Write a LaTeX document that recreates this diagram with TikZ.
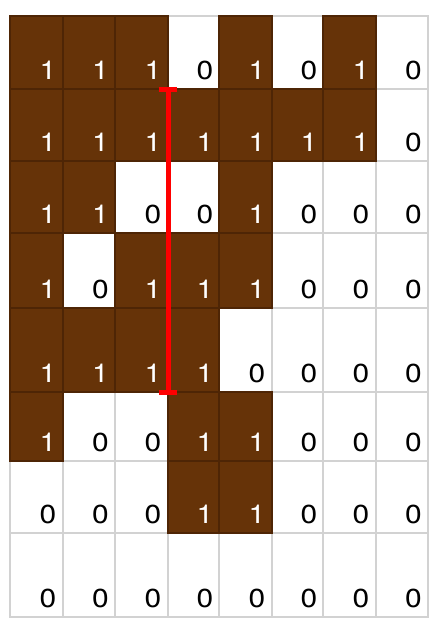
\documentclass[tikz,border=0pt]{standalone}
\usepackage{fontspec}
\setmainfont{TeX Gyre Heros}[Numbers=Lining]
\usetikzlibrary{arrows.meta, positioning}
\definecolor{cellBrown}{RGB}{102,51,8}
\definecolor{cellEdge}{RGB}{78,37,5}
\definecolor{gridGray}{RGB}{210,210,210}
\pgfdeclarelayer{blank}
\pgfsetlayers{blank,main}
\tikzset{
    cell0/.style={rectangle, draw=gridGray, line width=1.5pt, fill=white, inner sep=0pt, outer sep=0pt},
    cell1/.style={rectangle, draw=cellEdge, line width=1.2pt, fill=cellBrown, inner sep=0pt, outer sep=0pt},
    val0/.style={anchor=base, inner sep=0pt, font=\fontsize{26}{26}\selectfont, text=black},
    val1/.style={val0, text=white},
    redBar/.style={{Bar[width=18pt]}-{Bar[width=18pt]}, draw=red, line width=5pt, shorten <=-2.5pt, shorten >=-2.5pt},
}
\newcommand{\drawRow}[4]{
    % 一行八格：行号、上边、下边、数值
    \foreach \v [count=\c from 0] in {#4} {
        \pgfmathsetmacro{\xl}{{10,63,115,168,219,272,323,376,428}[\c]}
        \pgfmathsetmacro{\xr}{{10,63,115,168,219,272,323,376,428}[\c+1]}
        \pgfmathsetmacro{\cx}{(\xl + \xr)/2}
        \pgfmathsetmacro{\cw}{\xr - \xl}
        \pgfmathsetmacro{\cy}{(#2 + #3)/2}
        \pgfmathsetmacro{\ch}{#3 - #2}
        \ifnum\v=0
            % 白格放在底层，免得盖住棕格的边
            \begin{pgfonlayer}{blank}
                \node[cell0, minimum width=\cw pt, minimum height=\ch pt] (cell-#1-\c) at (\cx, \cy) {};
                \node[val0] (val-#1-\c) at ([xshift=11.5pt, yshift=9.5pt]cell-#1-\c.south) {\scalebox{1.15}[1]{0}};
            \end{pgfonlayer}
        \else
            \node[cell1, minimum width=\cw pt, minimum height=\ch pt] (cell-#1-\c) at (\cx, \cy) {};
            \node[val1] (val-#1-\c) at ([xshift=11.5pt, yshift=9.5pt]cell-#1-\c.south) {\scalebox{1.15}[1]{1}};
        \fi
    }
}
\begin{document}
\begin{tikzpicture}[x=1pt, y=-1pt]

        \useasboundingbox (0, 0) rectangle (447, 627);

        \drawRow{0}{16}{89}{1,1,1,0,1,0,1,0}
        \drawRow{1}{89}{161}{1,1,1,1,1,1,1,0}
        \drawRow{2}{161}{233}{1,1,0,0,1,0,0,0}
        \drawRow{3}{233}{308}{1,0,1,1,1,0,0,0}
        \drawRow{4}{308}{392}{1,1,1,1,0,0,0,0}
        \drawRow{5}{392}{461}{1,0,0,1,1,0,0,0}
        \drawRow{6}{461}{533}{0,0,0,1,1,0,0,0}
        \drawRow{7}{533}{617}{0,0,0,0,0,0,0,0}

        \draw[redBar] (cell-1-3.north west) -- (cell-4-3.south west);

    \end{tikzpicture}
\end{document}
